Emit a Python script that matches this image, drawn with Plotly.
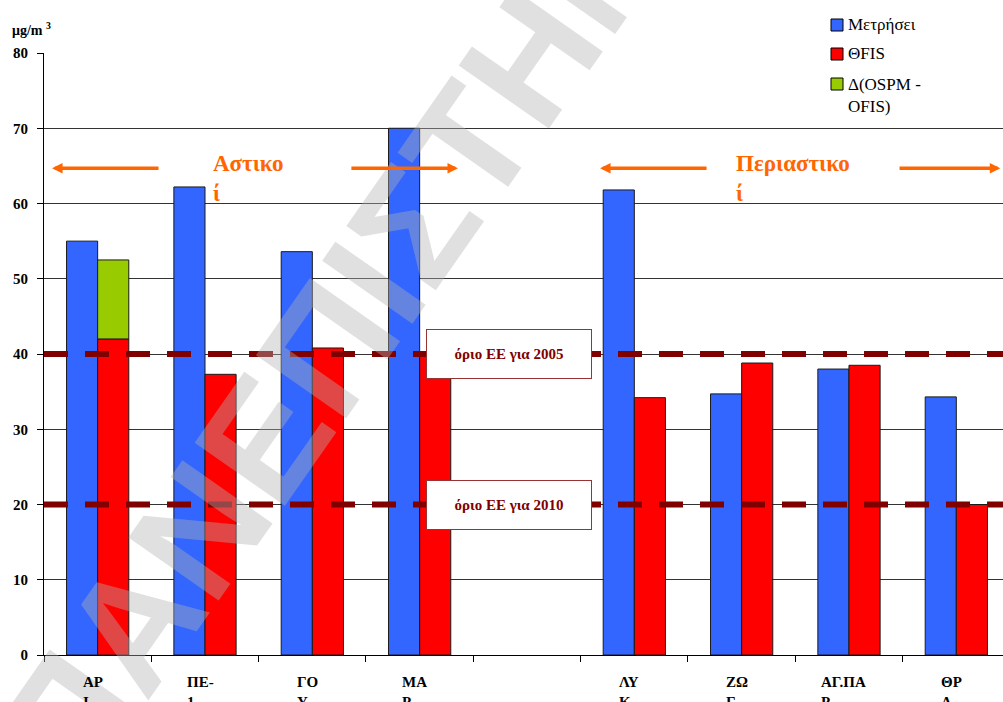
import plotly.graph_objects as go

# Stations (two-line abbreviated labels); slot 4 separates urban from suburban sites
stations = ["ΑΡ<br>Ι", "ΠΕ-<br>1", "ΓΟ<br>Υ", "ΜΑ<br>Ρ", "", "ΛΥ<br>Κ", "ΖΩ<br>Γ", "ΑΓ.ΠΑ<br>Ρ", "ΘΡ<br>Α"]
measured = [55.0, 62.2, 53.6, 70.0, None, 61.8, 34.7, 38.0, 34.3]
ofis = [42.0, 37.3, 40.8, 40.0, None, 34.2, 38.8, 38.5, 20.0]
ospm_minus_ofis = [10.5, None, None, None, None, None, None, None, None]

series_names = ["Μετρήσει", "ΘFIS", "Δ(OSPM -<br>OFIS)"]
series_colors = ["#3366FF", "#FF0000", "#99CC00"]

eu_limits = [40, 20]
eu_limit_labels = ["όριο ΕΕ για 2005", "όριο ΕΕ για 2010"]

y_ticks = [0, 10, 20, 30, 40, 50, 60, 70, 80]

SERIF = "Liberation Serif, Times New Roman, serif"
ORANGE = "#FF6600"
DARKRED = "#800000"
BAR_W = 0.29

x_idx = list(range(len(stations)))

fig = go.Figure()
fig.add_trace(go.Bar(x=x_idx, y=measured, offset=-BAR_W, width=BAR_W,
                     marker=dict(color=series_colors[0], line=dict(color="#1a1a1a", width=1)),
                     name=series_names[0], showlegend=False))
fig.add_trace(go.Bar(x=x_idx, y=ofis, offset=0, width=BAR_W,
                     marker=dict(color=series_colors[1], line=dict(color="#1a1a1a", width=1)),
                     name=series_names[1], showlegend=False))
fig.add_trace(go.Bar(x=x_idx, y=ospm_minus_ofis, base=ofis, offset=0, width=BAR_W,
                     marker=dict(color=series_colors[2], line=dict(color="#1a1a1a", width=1)),
                     name=series_names[2], showlegend=False))

# EU limit lines
shapes = []
for lim in eu_limits:
    shapes.append(dict(type="line", xref="paper", yref="y", x0=0, x1=1, y0=lim, y1=lim,
                       line=dict(color=DARKRED, width=6, dash="24px,17px"), layer="above"))

annotations = []

# Faint diagonal watermark
wm_px, wm_py = 385, 265
annotations.append(dict(text="ΠΑΝΕΠΙΣΤΗΜΙΟ", xref="paper", yref="paper",
                        x=(wm_px - 44) / 959, y=(655 - wm_py) / 602,
                        xanchor="center", yanchor="middle",
                        showarrow=False, textangle=-55,
                        font=dict(family="Liberation Sans", size=160, weight="bold",
                                  color="rgba(177,177,177,0.4)")))

# Category labels under the axis
for i, lab in enumerate(stations):
    if lab:
        annotations.append(dict(text=lab, x=i, xref="x", y=0, yref="paper", yanchor="top",
                                xanchor="center", align="left", yshift=-17, xshift=-5,
                                showarrow=False,
                                font=dict(family=SERIF, size=15, weight="bold", color="black")))

# Unit label
annotations.append(dict(text="μg/m <sup>3</sup>", xref="paper", yref="paper", x=-44 / 959,
                        xshift=10, y=1, yshift=24, xanchor="left", yanchor="middle",
                        showarrow=False,
                        font=dict(family=SERIF, size=14, weight="bold", color="black")))

# Limit labels in framed boxes
for lim, lab in zip(eu_limits, eu_limit_labels):
    annotations.append(dict(text=lab, x=3.832, xref="x", y=lim, yref="y", showarrow=False,
                            width=162, height=46, bgcolor="white", bordercolor="#993333",
                            borderwidth=1, borderpad=1,
                            font=dict(family=SERIF, size=15, weight="bold", color=DARKRED)))

# Zone captions with arrows
arrow_y = 64.7
for txt, xpos in [("Αστικο<br>ί", 1.056), ("Περιαστικο<br>ί", 5.929)]:
    annotations.append(dict(text=txt, x=xpos, xref="x", y=67.2, yref="y", xanchor="left",
                            yanchor="top", align="left", showarrow=False,
                            font=dict(family=SERIF, size=23, weight="bold", color=ORANGE)))
for head, tail in [(-0.425, 0.581), (3.357, 2.350), (4.681, 5.687), (8.41, 7.457)]:
    annotations.append(dict(text="", x=head, y=arrow_y, ax=tail, ay=arrow_y, xref="x", yref="y",
                            axref="x", ayref="y", showarrow=True, arrowhead=2, arrowsize=0.6,
                            arrowwidth=3.5, arrowcolor=ORANGE, standoff=0, startstandoff=0))

# Legend drawn as swatches with text
legend_rows_y = [25, 54, 84]
for name, col, py in zip(series_names, series_colors, legend_rows_y):
    shapes.append(dict(type="rect", xref="paper", yref="paper",
                       x0=(831 - 44) / 959, x1=(843 - 44) / 959,
                       y0=(655 - (py + 6)) / 602, y1=(655 - (py - 6)) / 602,
                       fillcolor=col, line=dict(color="black", width=1), layer="above"))
    annotations.append(dict(text=name, xref="paper", yref="paper", x=(846 - 44) / 959,
                            y=(655 - py) / 602, xanchor="left",
                            yanchor="top" if "<br>" in name else "middle",
                            yshift=11 if "<br>" in name else 0,
                            align="left", showarrow=False,
                            font=dict(family=SERIF, size=17, color="black")))

fig.update_layout(
    width=1003, height=702,
    margin=dict(l=44, r=0, t=53, b=47),
    paper_bgcolor="white", plot_bgcolor="white",
    barmode="overlay",
    showlegend=False,
    shapes=shapes,
    annotations=annotations,
    xaxis=dict(range=[-0.5, 8.435], showgrid=False, zeroline=False,
               tickvals=[i - 0.5 for i in range(len(stations))],
               ticktext=["" for _ in stations],
               ticks="outside", ticklen=6, tickcolor="black",
               showline=True, linecolor="black", linewidth=1),
    yaxis=dict(range=[0, 80], tickvals=y_ticks, ticks="outside", ticklen=6, tickcolor="black",
               showgrid=True, gridcolor="#333333", gridwidth=1, zeroline=False,
               showline=True, linecolor="black", linewidth=1, ticklabelstandoff=6,
               tickfont=dict(family=SERIF, size=15, weight="bold", color="black")),
)

fig.write_html("out.html")
